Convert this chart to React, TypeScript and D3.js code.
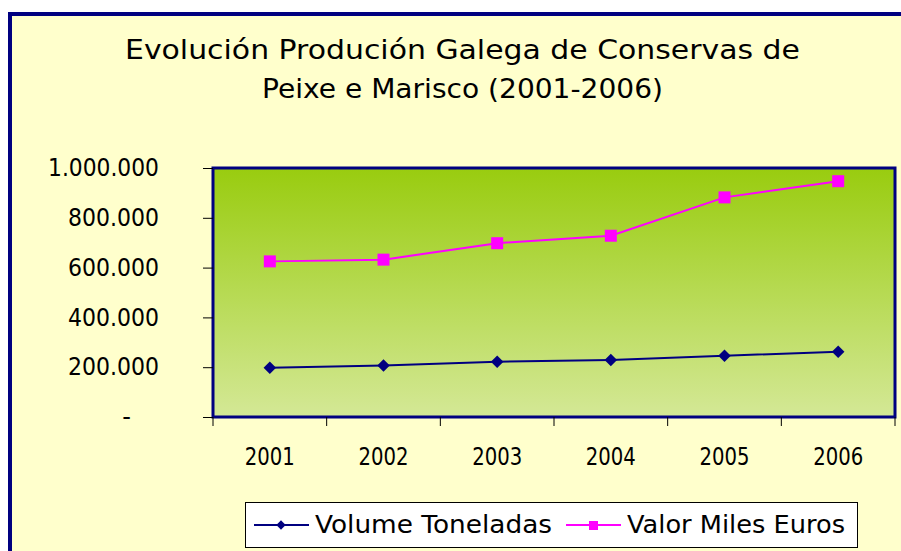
import React, { useEffect, useRef } from 'react';
import * as d3 from 'd3';

const years = ['2001', '2002', '2003', '2004', '2005', '2006'];
const volumeToneladas = [198000, 207000, 222000, 229000, 246000, 262000];
const valorMilesEuros = [625000, 632000, 698000, 728000, 882000, 947000];
const yTicks = [0, 200000, 400000, 600000, 800000, 1000000];
const titleLines = ['Evolución Produción Galega de Conservas de', 'Peixe e Marisco (2001-2006)'];
const seriesNames = ['Volume Toneladas', 'Valor Miles Euros'];

const W = 901;
const H = 551;
const FONT = "'DejaVu Sans', 'Lato', sans-serif";

const App = () => {
  const ref = useRef(null);

  useEffect(() => {
    document.body.style.margin = '0';
    const svg = d3.select(ref.current);
    svg.selectAll('*').remove();

    // chart area background + navy border
    svg.append('rect').attr('x', 10).attr('y', 14).attr('width', W + 20).attr('height', H + 20)
      .attr('fill', '#ffffcc').attr('stroke', '#000080').attr('stroke-width', 4);

    // title (widths held to the reference's)
    const titleSpec = [
      { x: 125, y: 59, len: 675 },
      { x: 262, y: 98, len: 401 },
    ];
    svg.append('g').selectAll('text').data(titleLines).join('text')
      .attr('x', (d, i) => titleSpec[i].x).attr('y', (d, i) => titleSpec[i].y)
      .attr('textLength', (d, i) => titleSpec[i].len).attr('lengthAdjust', 'spacingAndGlyphs')
      .style('font-family', FONT).style('font-size', '26px').attr('fill', '#000')
      .text((d) => d);

    const plot = { left: 213, top: 168, right: 895, bottom: 417 };

    const x = d3.scaleBand().domain(years).range([plot.left, plot.right]);
    const y = d3.scaleLinear().domain([0, 1000000]).range([plot.bottom, plot.top]);

    // gradient plot area
    const defs = svg.append('defs');
    const grad = defs.append('linearGradient').attr('id', 'plotgrad')
      .attr('x1', 0).attr('y1', 0).attr('x2', 0).attr('y2', 1);
    grad.append('stop').attr('offset', '0%').attr('stop-color', '#99cc0f');
    grad.append('stop').attr('offset', '100%').attr('stop-color', '#d4e896');

    svg.append('rect').attr('x', plot.left).attr('y', plot.top)
      .attr('width', plot.right - plot.left).attr('height', plot.bottom - plot.top)
      .attr('fill', 'url(#plotgrad)').attr('stroke', '#000080').attr('stroke-width', 3);

    // y axis
    const fmt = (v) => (v === 0 ? '-' : d3.format(',')(v).replace(/,/g, '.'));
    const yAxis = svg.append('g').attr('transform', `translate(${plot.left},0)`)
      .call(d3.axisLeft(y).tickValues(yTicks).tickSize(10).tickPadding(44).tickFormat(fmt));
    yAxis.select('.domain').remove();
    yAxis.selectAll('line').attr('stroke', '#000');
    yAxis.selectAll('text')
      .style('font-family', FONT).style('font-size', '24px').attr('fill', '#000')
      .attr('textLength', (d) => (d === 0 ? null : d >= 1000000 ? 111 : 91))
      .attr('lengthAdjust', 'spacingAndGlyphs')
      .attr('x', (d) => (d === 0 ? -82 : -54));

    // x axis ticks at band boundaries
    const bounds = years.map((d) => x(d)).concat([plot.right]);
    svg.append('g').selectAll('line').data(bounds).join('line')
      .attr('x1', (d) => d).attr('x2', (d) => d).attr('y1', plot.bottom).attr('y2', plot.bottom + 9)
      .attr('stroke', '#000');
    svg.append('g').selectAll('text').data(years).join('text')
      .attr('x', (d) => x(d) + x.bandwidth() / 2 - 25).attr('y', 465)
      .attr('textLength', 50).attr('lengthAdjust', 'spacingAndGlyphs')
      .style('font-family', FONT).style('font-size', '25px').text((d) => d);

    const cx = (i) => x(years[i]) + x.bandwidth() / 2;
    const line = d3.line().x((d, i) => cx(i)).y((d) => y(d));

    // series
    svg.append('path').datum(volumeToneladas).attr('d', line).attr('fill', 'none')
      .attr('stroke', '#000080').attr('stroke-width', 2);
    svg.append('g').selectAll('path').data(volumeToneladas).join('path')
      .attr('d', d3.symbol(d3.symbolDiamond2, 100))
      .attr('transform', (d, i) => `translate(${cx(i)},${y(d)})`)
      .attr('fill', '#000080');

    svg.append('path').datum(valorMilesEuros).attr('d', line).attr('fill', 'none')
      .attr('stroke', '#ff00ff').attr('stroke-width', 2);
    svg.append('g').selectAll('rect').data(valorMilesEuros).join('rect')
      .attr('x', (d, i) => cx(i) - 6).attr('y', (d) => y(d) - 6).attr('width', 12).attr('height', 12)
      .attr('fill', '#ff00ff');

    // legend
    svg.append('rect').attr('x', 245.5).attr('y', 502.5).attr('width', 612).attr('height', 45)
      .attr('fill', '#fff').attr('stroke', '#000').attr('stroke-width', 1);
    const lg = svg.append('g');
    const items = [
      { name: seriesNames[0], color: '#000080', x0: 254, tx: 315, len: 237, shape: 'diamond' },
      { name: seriesNames[1], color: '#ff00ff', x0: 566, tx: 627, len: 218, shape: 'square' },
    ];
    items.forEach((it) => {
      lg.append('line').attr('x1', it.x0).attr('x2', it.x0 + 55).attr('y1', 525).attr('y2', 525)
        .attr('stroke', it.color).attr('stroke-width', 2);
      if (it.shape === 'diamond') {
        lg.append('path').attr('d', d3.symbol(d3.symbolDiamond2, 55))
          .attr('transform', `translate(${it.x0 + 27},525)`).attr('fill', it.color);
      } else {
        lg.append('rect').attr('x', it.x0 + 23).attr('y', 521).attr('width', 9).attr('height', 9)
          .attr('fill', it.color);
      }
      lg.append('text').attr('x', it.tx).attr('y', 533)
        .attr('textLength', it.len).attr('lengthAdjust', 'spacingAndGlyphs')
        .style('font-family', FONT).style('font-size', '25px').text(it.name);
    });
  }, []);

  return <svg ref={ref} width={W} height={H} style={{ display: 'block' }} />;
};

export default App;
